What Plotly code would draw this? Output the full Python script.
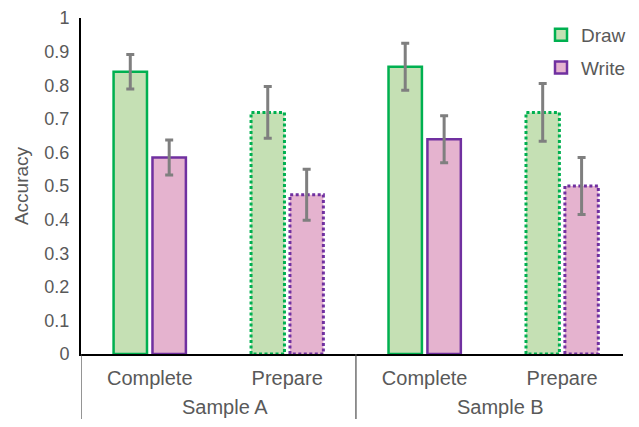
import plotly.graph_objects as go

samples = ["Sample A", "Sample B"]
tasks = ["Complete", "Prepare"]
series = ["Draw", "Write"]
# values per (sample, task) in order: A-Complete, A-Prepare, B-Complete, B-Prepare
draw_vals = [0.840, 0.719, 0.855, 0.719]
draw_err = [0.051, 0.077, 0.070, 0.086]
write_vals = [0.585, 0.474, 0.639, 0.500]
write_err = [0.052, 0.076, 0.070, 0.085]
y_ticks = [0, 0.1, 0.2, 0.3, 0.4, 0.5, 0.6, 0.7, 0.8, 0.9, 1]
y_tick_labels = ["0", "0.1", "0.2", "0.3", "0.4", "0.5", "0.6", "0.7", "0.8", "0.9", "1"]

# styling / geometry
BAR_W = 0.243
OFFS = {"Draw": -0.263, "Write": 0.020}
FILL = {"Draw": "#C5E0B4", "Write": "#E5B3CF"}
EDGE = {"Draw": "#00B050", "Write": "#7030A0"}
FONT = "Liberation Sans, Arial, sans-serif"
TXT = "#595959"
FS = 19
FS_Y = 18
FS_X = 20
X_MAX = 3.4427  # visible right end of the category axis

cats_sample = [s for s in samples for _ in tasks]
cats_task = [t for _ in samples for t in tasks]
idx = list(range(len(cats_task)))
n_tasks = len(tasks)

vals = {"Draw": draw_vals, "Write": write_vals}
errs = {"Draw": draw_err, "Write": write_err}

fig = go.Figure()

for s in series:
    for t in tasks:
        sel = [i for i in idx if cats_task[i] == t]
        fig.add_trace(go.Bar(
            x=sel,
            y=[vals[s][i] for i in sel],
            width=BAR_W, offset=OFFS[s],
            marker=dict(color=FILL[s],
                        line=dict(color=EDGE[s], width=2.5 if t == "Complete" else 0)),
            name=s, legendgroup=s,
            showlegend=(t == "Complete"),
            hoverinfo="y",
        ))

# dotted outlines for "Prepare" bars
for s in series:
    xs, ys = [], []
    for i in idx:
        if cats_task[i] != "Prepare":
            continue
        x0 = i + OFFS[s]
        x1 = x0 + BAR_W
        v = vals[s][i]
        xs += [x0, x0, x1, x1, x0, None]
        ys += [0, v, v, 0, 0, None]
    fig.add_trace(go.Scatter(
        x=xs, y=ys, mode="lines",
        line=dict(color=EDGE[s], width=3, dash="3px,2.5px"),
        showlegend=False, hoverinfo="skip",
    ))

# error bars
for s in series:
    fig.add_trace(go.Scatter(
        x=[i + OFFS[s] + BAR_W / 2 for i in idx], y=vals[s],
        mode="markers", marker=dict(size=1, opacity=0),
        error_y=dict(type="data", array=errs[s], color="#7F7F7F",
                     thickness=3, width=4),
        showlegend=False, hoverinfo="skip",
    ))

# group (sample) labels and dividers
annotations = []
shapes = []
for k, smp in enumerate(samples):
    center = k * n_tasks + (n_tasks - 1) / 2
    annotations.append(dict(x=center, y=-0.158, xref="x", yref="paper",
                            xanchor="center", yanchor="middle", xshift=7,
                            text=smp, showarrow=False,
                            font=dict(family=FONT, size=FS_X, color=TXT)))
for k in range(len(samples) + 1):
    xb = k * n_tasks - 0.5
    if xb > X_MAX:
        continue
    shapes.append(dict(type="line", xref="x", yref="paper",
                       x0=xb, x1=xb, y0=0, y1=-0.2,
                       line=dict(color="#4D4D4D", width=1.2)))

fig.update_layout(
    width=623, height=411,
    margin=dict(l=73, r=0, t=10, b=65),
    paper_bgcolor="white", plot_bgcolor="white",
    barmode="overlay",
    font=dict(family=FONT, size=FS, color=TXT),
    showlegend=True,
    legend=dict(x=0.849, y=1.006, xanchor="left", yanchor="top",
                bgcolor="rgba(0,0,0,0)", font=dict(size=FS, color=TXT),
                tracegroupgap=5, itemwidth=30),
    annotations=annotations,
    shapes=shapes,
    xaxis=dict(range=[-0.5, X_MAX], tickvals=idx, ticktext=cats_task,
               showline=True, linecolor="black", linewidth=2,
               showgrid=False, zeroline=False, ticks="", automargin=False,
               ticklabelstandoff=5,
               tickfont=dict(size=FS_X, color=TXT)),
    yaxis=dict(range=[0, 1], tickvals=y_ticks, ticktext=y_tick_labels,
               showline=True, linecolor="black", linewidth=2,
               showgrid=False, zeroline=False, ticks="", automargin=False,
               ticklabelstandoff=6,
               tickfont=dict(size=FS_Y, color=TXT),
               title=dict(text="Accuracy", font=dict(size=FS, color=TXT), standoff=11)),
)

fig.write_html("out.html")
